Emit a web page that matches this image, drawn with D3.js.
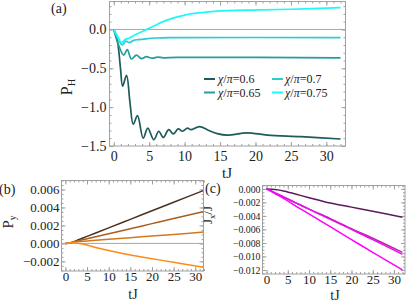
<!DOCTYPE html>
<html>
<head>
<meta charset="utf-8">
<script src="https://cdn.jsdelivr.net/npm/d3@7"></script>
<style>
  body { margin: 0; background: #fff; }
  svg, svg text { font-family: "Liberation Serif", "DejaVu Serif", serif !important; }
  .frame { fill: none; stroke: #a0a0a0; stroke-width: 1; }
  .tick line, .domain { stroke: #a0a0a0; }
  .tick text { fill: #222; }
  .zero { stroke: #a8a8a8; stroke-width: 1; }
</style>
</head>
<body>
<div id="chart"></div>
<script>
// panel (a): P_H vs tJ for four chi values
var chiLabels = ["0.6", "0.65", "0.7", "0.75"];
var colorsA = ["#1d5c5a", "#229e9b", "#28cdd2", "#1ef8f8"];

var tA06 = [0, 0.5, 0.95, 1.25, 1.8, 2.3, 2.75, 3.35, 4.15, 4.8, 5.65, 6.35, 7.0, 7.75, 8.4, 9.1, 9.7, 10.4, 10.9, 12.1, 13.4, 14.6, 16.0, 18.8, 21.7, 26.4, 32];
var vA06 = [0, -0.14, -0.5, -0.73, -0.59, -0.95, -1.22, -1.11, -1.40, -1.27, -1.42, -1.31, -1.39, -1.29, -1.345, -1.28, -1.31, -1.27, -1.29, -1.25, -1.30, -1.34, -1.36, -1.33, -1.36, -1.38, -1.41];
var tA065 = [0, 0.6, 1.4, 1.9, 2.5, 3.2, 3.9, 4.6, 5.4, 6.2, 7, 9, 32];
var vA065 = [0, -0.18, -0.33, -0.26, -0.38, -0.33, -0.375, -0.35, -0.37, -0.355, -0.365, -0.36, -0.365];
var tA07 = [0, 0.5, 1.2, 1.7, 2.2, 2.8, 3.5, 4.5, 6, 8, 32];
var vA07 = [0, -0.1, -0.2, -0.15, -0.17, -0.14, -0.13, -0.12, -0.11, -0.105, -0.105];
var tA075 = [0, 0.5, 1.1, 1.6, 2.2, 2.8, 4.2, 5.65, 7.5, 10, 12.2, 14.6, 19.3, 25, 32];
var vA075 = [0, -0.08, -0.17, -0.13, -0.11, -0.08, -0.02, 0.045, 0.12, 0.185, 0.215, 0.235, 0.25, 0.26, 0.28];

// panel (b): P_y
var tB = [0, 1, 2, 3, 4, 5, 7, 10, 15, 20, 25, 32];
var vB1 = [0, 0.00003, 0.0002, 0.0004, 0.0006, 0.00078, 0.00116, 0.00173, 0.00268, 0.00363, 0.00458, 0.0059];
var vB2 = [0, 0.00005, 0.0002, 0.0003, 0.0004, 0.00052, 0.00075, 0.00108, 0.00164, 0.0022, 0.00276, 0.00354];
var vB3 = [0, 0.00005, 0.00015, 0.0002, 0.00023, 0.00026, 0.00034, 0.00046, 0.00064, 0.00082, 0.001, 0.00126];
var vB4 = [0, 0.00005, 0.00008, 0.00002, -0.00008, -0.00018, -0.00045, -0.0008, -0.0013, -0.0017, -0.0021, -0.00265];
var colorsB = ["#4a3220", "#a95e1f", "#d2781f", "#ff8a18"];

// panel (c): J_x/J
var tC = [0, 2, 4, 7, 10, 15, 20, 25, 32];
var vC1 = [0, -0.0001, -0.0003, -0.0008, -0.0013, -0.0021, -0.0027, -0.0033, -0.0042];
var vC2 = [0, -0.0006, -0.0012, -0.0021, -0.0030, -0.0044, -0.0059, -0.0073, -0.0094];
var vC3 = [0, -0.0006, -0.0012, -0.0021, -0.0030, -0.0045, -0.0060, -0.0075, -0.0097];
var vC4 = [0, -0.0007, -0.0014, -0.0026, -0.0037, -0.0056, -0.0075, -0.0094, -0.012];
var colorsC = ["#5c1a5c", "#c21fb8", "#e512e5", "#ff00ff"];

var xTicks = [0, 5, 10, 15, 20, 25, 30];
var serif = "'Liberation Serif', 'DejaVu Serif', serif";

var svg = d3.select("#chart").append("svg")
  .attr("width", 407).attr("height", 308)
  .style("font-family", serif);

function zip(ts, vs) {
  return ts.map(function (t, i) { return [t, vs[i]]; });
}

function fmtMinus(f) {
  return function (d) { return f(d).replace("-", "\u2212"); };
}

function panel(p) {
  var x = d3.scaleLinear().domain(p.xDom).range([p.left, p.right]);
  var y = d3.scaleLinear().domain(p.yDom).range([p.bottom, p.top]);
  var g = svg.append("g");

  // minor ticks, all four sides
  var minorX = d3.range(0, 33, 1);
  var minorY = d3.range(p.yMinor[0], p.yMinor[1] + p.yMinor[2] / 2, p.yMinor[2]);
  [["axisBottom", p.bottom], ["axisTop", p.top]].forEach(function (a) {
    g.append("g").attr("transform", "translate(0," + a[1] + ")")
      .call(d3[a[0]](x).tickValues(minorX).tickSize(-2).tickFormat(""))
      .call(function (s) { s.select(".domain").remove(); });
  });
  [["axisLeft", p.left], ["axisRight", p.right]].forEach(function (a) {
    g.append("g").attr("transform", "translate(" + a[1] + ",0)")
      .call(d3[a[0]](y).tickValues(minorY).tickSize(-2).tickFormat(""))
      .call(function (s) { s.select(".domain").remove(); });
  });

  // major ticks
  g.append("g").attr("transform", "translate(0," + p.bottom + ")")
    .call(d3.axisBottom(x).tickValues(xTicks).tickSize(-4).tickPadding(p.xPad).tickFormat(d3.format("d")))
    .call(function (s) {
      s.select(".domain").remove();
      s.attr("font-family", serif);
      s.selectAll("text").attr("font-size", p.xFont).style("font-family", serif);
    });
  g.append("g").attr("transform", "translate(0," + p.top + ")")
    .call(d3.axisTop(x).tickValues(xTicks).tickSize(-4).tickFormat(""))
    .call(function (s) { s.select(".domain").remove(); });
  g.append("g").attr("transform", "translate(" + p.left + ",0)")
    .call(d3.axisLeft(y).tickValues(p.yTicks).tickSize(-4).tickPadding(p.yPad).tickFormat(fmtMinus(p.yFmt)))
    .call(function (s) {
      s.select(".domain").remove();
      s.attr("font-family", serif);
      s.selectAll("text").attr("font-size", p.yFont).style("font-family", serif);
    });
  g.append("g").attr("transform", "translate(" + p.right + ",0)")
    .call(d3.axisRight(y).tickValues(p.yTicks).tickSize(-4).tickFormat(""))
    .call(function (s) { s.select(".domain").remove(); });

  if (p.zero) {
    g.append("line").attr("class", "zero")
      .attr("x1", p.left).attr("x2", p.right)
      .attr("y1", y(0)).attr("y2", y(0));
  }

  var line = d3.line()
    .x(function (d) { return x(d[0]); })
    .y(function (d) { return y(d[1]); })
    .curve(d3.curveCatmullRom.alpha(0.5));

  p.series.forEach(function (s, i) {
    g.append("path")
      .datum(s)
      .attr("fill", "none")
      .attr("stroke", p.colors[i])
      .attr("stroke-width", p.lw)
      .attr("d", line);
  });

  g.append("rect").attr("class", "frame")
    .attr("x", p.left).attr("y", p.top)
    .attr("width", p.right - p.left).attr("height", p.bottom - p.top);

  return { x: x, y: y, g: g };
}

// (a)
panel({
  left: 109.5, right: 345.5, top: 1.5, bottom: 146,
  xDom: [-0.6, 32.7], yDom: [-1.5, 0.36],
  yTicks: [-1.5, -1, -0.5, 0], yMinor: [-1.5, 0.3, 0.1], yFmt: d3.format(".1f"),
  xFont: 14, yFont: 14, xPad: 5, yPad: 3, zero: true, lw: 1.7,
  colors: colorsA,
  series: [zip(tA06, vA06), zip(tA065, vA065), zip(tA07, vA07), zip(tA075, vA075)]
});

// (b)
panel({
  left: 61.5, right: 203.5, top: 180.5, bottom: 271,
  xDom: [-0.9, 31.9], yDom: [-0.00307, 0.007],
  yTicks: [-0.002, 0, 0.002, 0.004, 0.006], yMinor: [-0.003, 0.007, 0.0005], yFmt: d3.format(".3f"),
  xFont: 13, yFont: 13, xPad: 1, yPad: 2, zero: true, lw: 1.5,
  colors: colorsB,
  series: [zip(tB, vB1), zip(tB, vB2), zip(tB, vB3), zip(tB, vB4)]
});

// (c)
panel({
  left: 262.5, right: 405, top: 185.5, bottom: 274,
  xDom: [-0.95, 32.6], yDom: [-0.0126, 0.0005],
  yTicks: [-0.012, -0.01, -0.008, -0.006, -0.004, -0.002, 0], yMinor: [-0.0125, 0.0005, 0.0005], yFmt: d3.format(".3f"),
  xFont: 13, yFont: 9.8, xPad: 1, yPad: 2, zero: false, lw: 1.5,
  colors: colorsC,
  series: [zip(tC, vC1), zip(tC, vC2), zip(tC, vC3), zip(tC, vC4)]
});

// legend for (a)
var legendCols = [[204, 218], [204, 218], [272, 285], [272, 285]];
var legendRows = [79, 92.5, 79, 92.5];
var leg = svg.append("g");
chiLabels.forEach(function (c, i) {
  leg.append("line")
    .attr("x1", legendCols[i][0]).attr("x2", legendCols[i][0] + 11)
    .attr("y1", legendRows[i]).attr("y2", legendRows[i])
    .attr("stroke", colorsA[i]).attr("stroke-width", 2);
  var t = leg.append("text")
    .attr("x", legendCols[i][1]).attr("y", legendRows[i] + 4)
    .attr("font-size", 12).attr("fill", "#222");
  t.append("tspan").attr("font-style", "italic").text("\u03c7");
  t.append("tspan").text("/");
  t.append("tspan").attr("font-style", "italic").text("\u03c0");
  t.append("tspan").text("=" + c);
});

// axis labels
function ylabel(xp, yp, main, sub, rest, size) {
  var t = svg.append("text")
    .attr("transform", "translate(" + xp + "," + yp + ") rotate(-90)")
    .attr("text-anchor", "middle").attr("font-size", size).attr("fill", "#222");
  t.append("tspan").text(main);
  t.append("tspan").attr("font-size", size * 0.65).attr("dy", 3).text(sub);
  if (rest) t.append("tspan").attr("dy", -3).text(rest);
}
ylabel(72, 87, "P", "H", null, 16);
ylabel(13, 222, "P", "y", null, 15);
ylabel(212, 215, "J", "x", "/J", 13);

function xlabel(xp, yp, size) {
  svg.append("text").attr("x", xp).attr("y", yp)
    .attr("text-anchor", "middle").attr("font-size", size).attr("fill", "#222")
    .text("tJ");
}
xlabel(227, 178, 15);
xlabel(133, 299, 14);
xlabel(335, 300, 14);

// panel letters
function letter(xp, yp, s) {
  svg.append("text").attr("x", xp).attr("y", yp)
    .attr("font-size", 14).attr("fill", "#222").text(s);
}
letter(51, 13, "(a)");
letter(-1, 194, "(b)");
letter(205, 193, "(c)");
</script>
</body>
</html>
